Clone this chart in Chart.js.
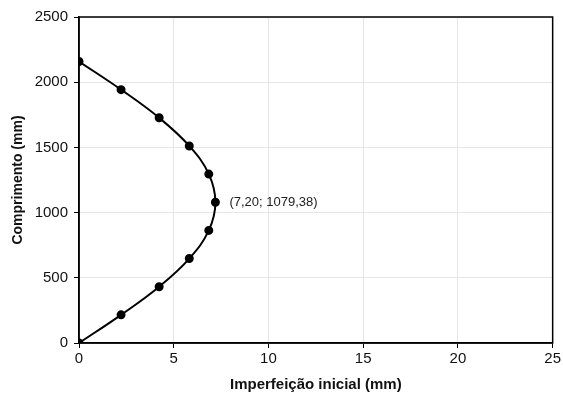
<!DOCTYPE html>
<html>
<head>
<meta charset="utf-8">
<script src="https://cdn.jsdelivr.net/npm/chart.js@4/dist/chart.umd.min.js"></script>
<style>
  html, body { margin: 0; padding: 0; background: #fff; }
  #chart { display: block; }
</style>
</head>
<body>
<canvas id="chart" width="563" height="394"></canvas>
<script>
// Initial imperfection (mm) vs length (mm)
const imperfection = [0, 2.22, 4.23, 5.82, 6.85, 7.20, 6.85, 5.82, 4.23, 2.22, 0];
const length = [0, 215.9, 431.8, 647.6, 863.5, 1079.38, 1295.3, 1511.1, 1727.0, 1942.9, 2158.8];
const peakLabel = '(7,20; 1079,38)';
const peakIndex = 5;

const xTitle = 'Imperfeição inicial (mm)';
const yTitle = 'Comprimento (mm)';

const fontFamily = '"Liberation Sans", Arial, sans-serif';

// frame round the plot area + peak annotation
const framePlugin = {
  id: 'frame',
  afterDatasetsDraw(chart) {
    const { ctx, chartArea: a, scales } = chart;
    ctx.save();
    ctx.strokeStyle = '#000';
    ctx.lineWidth = 1.5;
    ctx.strokeRect(a.left, a.top, a.right - a.left, a.bottom - a.top);

    const px = scales.x.getPixelForValue(imperfection[peakIndex]);
    const py = scales.y.getPixelForValue(length[peakIndex]);
    ctx.fillStyle = '#222';
    ctx.font = '13px ' + fontFamily;
    ctx.textBaseline = 'middle';
    ctx.textAlign = 'left';
    ctx.fillText(peakLabel, px + 14, py);
    ctx.restore();
  }
};

const ctx = document.getElementById('chart').getContext('2d');
new Chart(ctx, {
  type: 'scatter',
  data: {
    datasets: [{
      data: imperfection.map((x, i) => ({ x: x, y: length[i] })),
      showLine: true,
      borderColor: '#000',
      backgroundColor: '#000',
      borderWidth: 2,
      tension: 0.4,
      pointRadius: 3.5,
      pointHoverRadius: 3.5
    }]
  },
  options: {
    responsive: false,
    animation: false,
    layout: { padding: { top: 17, right: 9, left: 0, bottom: 0 } },
    plugins: {
      legend: { display: false },
      tooltip: { enabled: false }
    },
    scales: {
      x: {
        type: 'linear',
        min: 0,
        max: 25,
        ticks: { stepSize: 5, color: '#111', font: { family: fontFamily, size: 15 }, padding: 2,
                 callback: v => String(v) },
        grid: { color: '#e6e6e6', tickColor: '#000', tickLength: 5 },
        border: { color: '#000', width: 1.5 },
        title: {
          display: true,
          text: xTitle,
          color: '#111',
          font: { family: fontFamily, size: 15, weight: 'bold' },
          padding: { top: 4, bottom: 0 }
        },
        afterFit(scale) { scale.height = 51; }
      },
      y: {
        min: 0,
        max: 2500,
        ticks: { stepSize: 500, color: '#111', font: { family: fontFamily, size: 15 }, padding: 6,
                 callback: v => String(v) },
        grid: { color: '#e6e6e6', tickColor: '#000', tickLength: 5 },
        border: { color: '#000', width: 1.5 },
        title: {
          display: true,
          text: yTitle,
          color: '#111',
          font: { family: fontFamily, size: 14, weight: 'bold' },
          padding: { top: 10, bottom: 0 }
        },
        afterFit(scale) { scale.width = 79; }
      }
    }
  },
  plugins: [framePlugin]
});
</script>
</body>
</html>
